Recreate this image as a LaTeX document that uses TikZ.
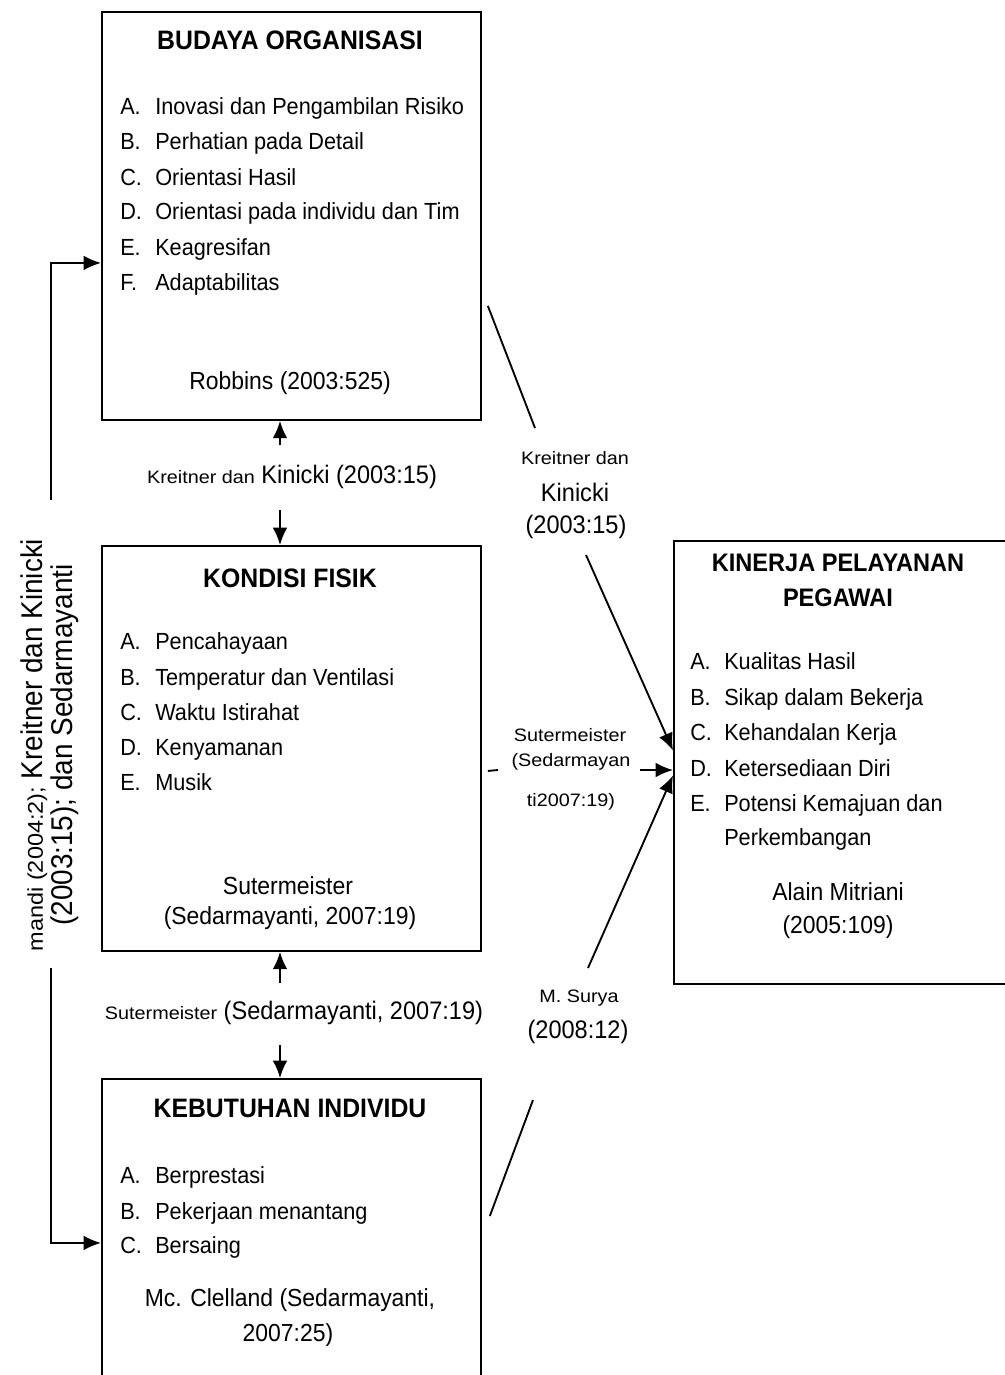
\documentclass[tikz,border=0pt]{standalone}
\usepackage{fontspec}
\setmainfont{Liberation Sans}[FakeStretch=0.93]
\newfontfamily\smallf{Liberation Sans}[FakeStretch=1.1]
\usetikzlibrary{arrows.meta,calc}
\newcommand{\smt}{\smallf\fontsize{13.5}{16}\selectfont}
\begin{document}
\begin{tikzpicture}[x=0.75pt,y=-0.75pt,
  box/.style={draw, line width=1.4pt, anchor=north west, inner sep=0, minimum width=284.25pt},
  item/.style={anchor=mid west, inner sep=0, yshift=-3pt, font=\fontsize{17.5}{21}\selectfont},
  ttl/.style={inner sep=0, font=\fontsize{20}{24}\selectfont\bfseries},
  cite/.style={inner sep=0, font=\fontsize{18.5}{22}\selectfont},
  lab/.style={inner sep=0, font=\fontsize{19}{22}\selectfont},
  sml/.style={inner sep=0, font=\smt},
  conn/.style={line width=1.4pt},
  arr/.style={line width=1.4pt, -{Latex[length=13pt,width=11pt]}}]
\path[use as bounding box, fill=white] (0,0) rectangle (1004,1375);

% boxes
\node[box, minimum height=306pt] (budaya) at (101,11) {};
\node[box, minimum height=303.75pt] (kondisi) at (101,545) {};
\node[box, minimum height=226.5pt] (keb) at (101,1078) {};
\node[box, minimum width=255pt, minimum height=332.25pt] (kinerja) at (673,540) {};

% Budaya Organisasi
\node[ttl] (bt) at (290,40) {BUDAYA ORGANISASI};
\foreach \y/\l/\t [count=\i] in {107/A./Inovasi dan Pengambilan Risiko,
  142/B./Perhatian pada Detail, 178/C./Orientasi Hasil,
  212/D./Orientasi pada individu dan Tim, 248/E./Keagresifan, 283/F./Adaptabilitas}{
  \node[item] (bl\i) at (120,\y) {\l};
  \node[item] (bi\i) at (155,\y) {\t};
}
\node[cite] (bc) at (290,383) {Robbins (2003:525)};

% Kondisi Fisik
\node[ttl] (kt) at (290,578) {KONDISI FISIK};
\foreach \y/\l/\t [count=\i] in {642/A./Pencahayaan, 678/B./Temperatur dan Ventilasi,
  713/C./Waktu Istirahat, 748/D./Kenyamanan, 783/E./Musik}{
  \node[item] (kl\i) at (120,\y) {\l};
  \node[item] (ki\i) at (155,\y) {\t};
}
\node[cite] (kc1) at (288,886) {Sutermeister};
\node[cite] (kc2) at (290,918) {(Sedarmayanti, 2007:19)};

% Kebutuhan Individu
\node[ttl] (et) at (290,1108) {KEBUTUHAN INDIVIDU};
\foreach \y/\l/\t [count=\i] in {1176/A./Berprestasi, 1212/B./Pekerjaan menantang, 1246/C./Bersaing}{
  \node[item] (el\i) at (120,\y) {\l};
  \node[item] (ei\i) at (155,\y) {\t};
}
\node[cite] (ec1) at (290,1300) {Mc. Clelland (Sedarmayanti,};
\node[cite] (ec2) at (288,1335) {2007:25)};

% Kinerja
\node[ttl, font=\fontsize{19}{23}\selectfont\bfseries] (nt1) at (838,563) {KINERJA PELAYANAN};
\node[ttl, font=\fontsize{19}{23}\selectfont\bfseries] (nt2) at (838,598) {PEGAWAI};
\foreach \y/\l/\t [count=\i] in {662/A./Kualitas Hasil, 698/B./Sikap dalam Bekerja,
  733/C./Kehandalan Kerja, 769/D./Ketersediaan Diri, 804/E./Potensi Kemajuan dan}{
  \node[item] (nl\i) at (690,\y) {\l};
  \node[item] (ni\i) at (724,\y) {\t};
}
\node[item] (ni6) at (724,838) {Perkembangan};
\node[cite] (nc1) at (838,892) {Alain Mitriani};
\node[cite] (nc2) at (838,927) {(2005:109)};

% vertical labels and arrows between boxes
\node[lab] (l1) at (292,477) {{\smt Kreitner dan} Kinicki (2003:15)};
\coordinate (u1) at (280,445);
\coordinate (d1) at (280,510);
\draw[arr] (u1) -- (u1 |- budaya.south);
\draw[arr] (d1) -- (d1 |- kondisi.north);

\node[lab] (l2) at (294,1013) {{\smt Sutermeister} (Sedarmayanti, 2007:19)};
\coordinate (u2) at (280,983);
\coordinate (d2) at (280,1045);
\draw[arr] (u2) -- (u2 |- kondisi.south);
\draw[arr] (d2) -- (d2 |- keb.north);

% left bracket
\node[rotate=90, align=center, inner sep=0, font=\fontsize{22.5}{22.5}\selectfont] (leftlab) at (50,745)
  {{\smallf\fontsize{16}{19}\selectfont mandi (2004:2);} Kreitner dan Kinicki\\(2003:15); dan Sedarmayanti};
\coordinate (lt) at (51,500);
\coordinate (lb) at (51,968);
\draw[arr] (lt) |- ($(budaya.west)+(0,47)$);
\draw[arr] (lb) |- ($(keb.west)+(0,13)$);

% right labels
\node[sml] (r1a) at (575,458) {Kreitner dan};
\node[lab] (r1b) at (575,492) {Kinicki};
\node[lab] (r1c) at (576,527) {(2003:15)};
\node[sml] (r2a) at (570,735) {Sutermeister};
\node[sml] (r2b) at (571,762) {(Sedarmayan};
\node[sml] (r2c) at (571,802) {ti2007:19)};
\node[sml] (r3a) at (579,998) {M. Surya};
\node[lab] (r3b) at (578,1032) {(2008:12)};

% right connectors
\coordinate (c1a) at (535,428);
\coordinate (c1b) at (586,555);
\draw[conn] ($(budaya.east)+(6,90)$) -- (c1a);
\draw[arr] (c1b) -- ($(kinerja.west)+(0,-12)$);

\coordinate (m1) at (498,770);
\coordinate (m2) at (640,770);
\draw[conn] ($(kondisi.east)+(6,22.5)$) -- (m1);
\draw[arr] (m2) -- (m2 -| kinerja.west);

\coordinate (c3a) at (533,1100);
\coordinate (c3b) at (588,968);
\draw[conn] ($(keb.east)+(8,-14)$) -- (c3a);
\draw[arr] (c3b) -- ($(kinerja.west)+(0,13)$);
\end{tikzpicture}
\end{document}
